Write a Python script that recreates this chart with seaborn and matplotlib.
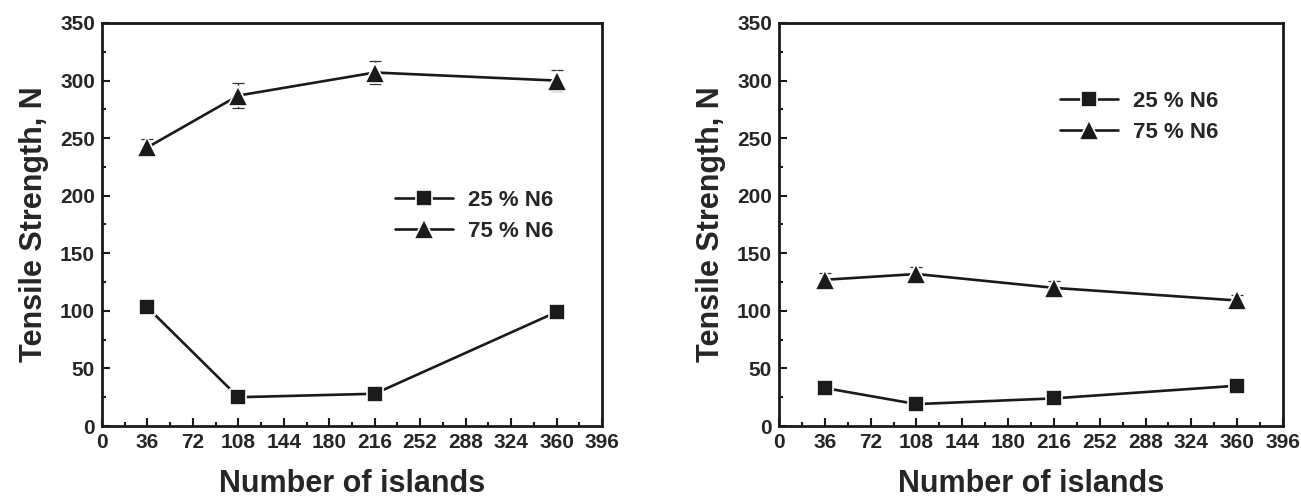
import numpy as np
import pandas as pd
import matplotlib
matplotlib.use("Agg")
import matplotlib.pyplot as plt
import seaborn as sns
from matplotlib.ticker import MultipleLocator

# data
islands = [36, 108, 216, 360]
series = ["25 % N6", "75 % N6"]

left_25 = [103, 25, 28, 99]
left_75 = [242, 287, 307, 300]
left_25_err = [2, 2, 2, 2]
left_75_err = [7, 11, 10, 9]

right_25 = [33, 19, 24, 35]
right_75 = [127, 132, 120, 109]
right_25_err = [2, 2, 2, 2]
right_75_err = [6, 6, 6, 5]

sns.set_theme(style="ticks")
plt.rcParams['font.family'] = ['Liberation Sans', 'DejaVu Sans']
plt.rcParams['font.weight'] = 'bold'

fig = plt.figure(figsize=(13.01, 5), dpi=100)
W, H = 1301, 500
ax1 = fig.add_axes([102 / W, 74 / H, 500 / W, 403 / H])
ax2 = fig.add_axes([779 / W, 74 / H, 504 / W, 403 / H])


def draw(ax, v25, v75, e25, e75, leg_anchor):
    df = pd.DataFrame({
        "islands": islands * 2,
        "strength": v25 + v75,
        "series": [series[0]] * 4 + [series[1]] * 4,
    })
    # error bars first, under the markers
    ax.errorbar(islands, v25, yerr=e25, fmt="none", ecolor="#333333",
                elinewidth=0.9, capsize=4, capthick=0.9, zorder=1)
    ax.errorbar(islands, v75, yerr=e75, fmt="none", ecolor="#333333",
                elinewidth=0.9, capsize=4, capthick=0.9, zorder=1)
    sns.lineplot(data=df, x="islands", y="strength", hue="series", style="series",
                 markers={series[0]: "s", series[1]: "^"}, dashes=False,
                 palette=["#1a1a1a", "#1a1a1a"], linewidth=1.9,
                 markersize=11, markeredgecolor="white", markeredgewidth=1.2,
                 ax=ax, zorder=3)
    for ln in ax.lines:
        if ln.get_marker() == "^":
            ln.set_markersize(15)
    ax.set_xlim(0, 396)
    ax.set_ylim(0, 350)
    ax.xaxis.set_major_locator(MultipleLocator(36))
    ax.xaxis.set_minor_locator(MultipleLocator(18))
    ax.yaxis.set_major_locator(MultipleLocator(50))
    ax.yaxis.set_minor_locator(MultipleLocator(25))
    ax.tick_params(which="both", direction="in", top=False, right=False,
                   width=1.5, color="#1a1a1a", labelsize=15, pad=5)
    ax.tick_params(which="major", length=6)
    ax.tick_params(which="minor", length=3)
    for lab in ax.get_xticklabels() + ax.get_yticklabels():
        lab.set_fontweight("bold")
    for s in ax.spines.values():
        s.set_linewidth(2.0)
        s.set_color("#1a1a1a")
    ax.set_xlabel("Number of islands", fontsize=22, fontweight="bold", labelpad=12)
    ax.set_ylabel("Tensile Strength, N", fontsize=22, fontweight="bold", labelpad=8)
    leg = ax.legend(title=None, frameon=False, loc="upper left", bbox_to_anchor=leg_anchor,
                    borderaxespad=0, borderpad=0, handlelength=2.6, handletextpad=0.7,
                    labelspacing=0.45, prop={"size": 16, "weight": "bold"})
    for h in leg.legend_handles:
        h.set_markersize(15 if h.get_marker() == "^" else 11)


draw(ax1, left_25, left_75, left_25_err, left_75_err, (0.586, 0.586))
draw(ax2, right_25, right_75, right_25_err, right_75_err, (0.557, 0.832))

fig.savefig("out.png", dpi=100)
